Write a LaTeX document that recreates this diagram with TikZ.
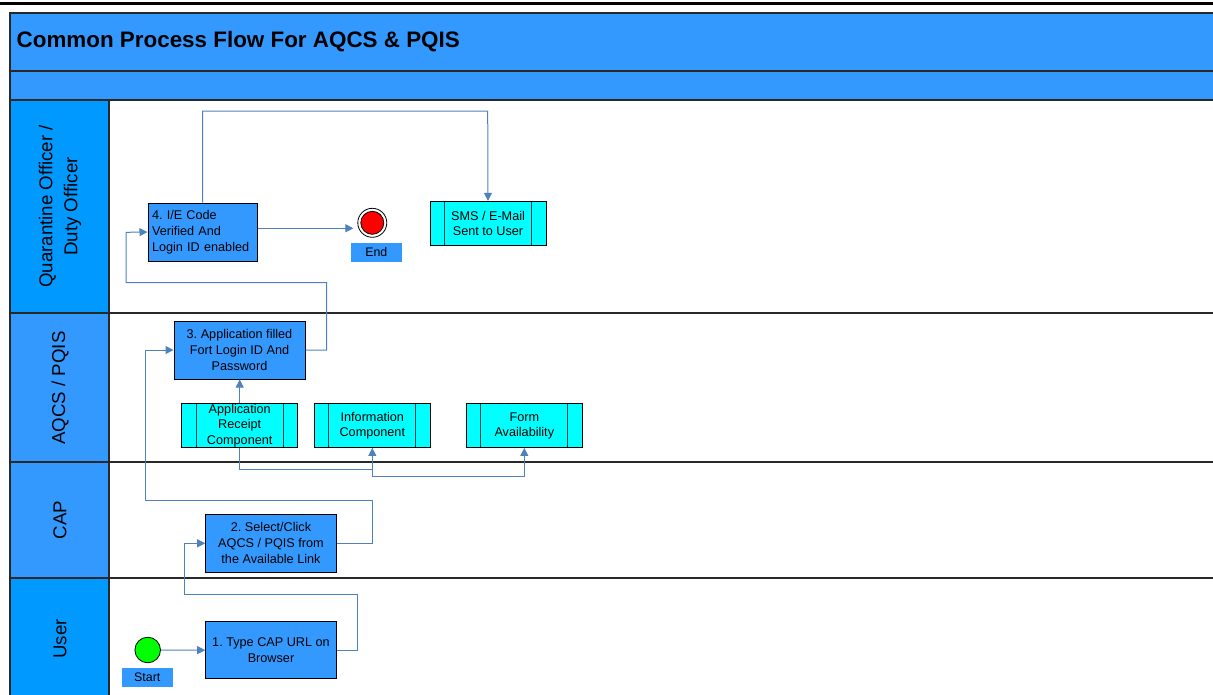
\documentclass[tikz,border=0pt]{standalone}
\usepackage{fontspec}
\setmainfont{Liberation Sans}
\usetikzlibrary{arrows.meta,calc}
\frenchspacing
\definecolor{lblue}{RGB}{51,153,255}
\definecolor{dblue}{RGB}{0,153,255}
\definecolor{aqua}{RGB}{0,255,255}
\definecolor{conncol}{RGB}{79,129,189}
\definecolor{startgreen}{RGB}{0,255,0}
\definecolor{edgegray}{RGB}{40,40,40}
\tikzset{
  stepbox/.style={draw=black, line width=0.75pt, fill=lblue, minimum width=131*0.75pt,
    minimum height=58*0.75pt, align=center, font=\fontsize{9.5}{12}\selectfont\frenchspacing, inner sep=1pt},
  comp/.style={draw=black, fill=aqua, line width=0.75pt, minimum width=116*0.75pt,
    minimum height=43.5*0.75pt, align=center, font=\fontsize{9.5}{11.6}\selectfont, inner sep=0pt,
    path picture={\draw[line width=0.75pt, draw=black!75!aqua]
      ([xshift=10.9pt]path picture bounding box.north west) -- ([xshift=10.9pt]path picture bounding box.south west)
      ([xshift=-10.9pt]path picture bounding box.north east) -- ([xshift=-10.9pt]path picture bounding box.south east);}},
  conn/.style={draw=conncol, line width=0.75pt, -{Triangle[length=6pt,width=6pt]}},
  tag/.style={fill=lblue, minimum width=50.7*0.75pt, minimum height=18.4*0.75pt, inner sep=0pt,
    font=\fontsize{9.3}{11}\selectfont},
  lanelbl/.style={rotate=90, align=center, font=\fontsize{14}{18.75}\selectfont},
  band/.style={draw=edgegray, line width=0.8pt},
}
\begin{document}
\begin{tikzpicture}[x=0.75pt,y=-0.75pt]
\useasboundingbox (0,0) rectangle (1213,694);
\clip (0,0) rectangle (1213,694);
% top rule
\draw[line width=2pt, black] (0,3.5) -- (1213,3.5);
\draw[line width=0.6pt, black!30] (9.5,12) -- (1213,12);
\draw[line width=0.6pt, black!45] (9.5,12) -- (9.5,700);
% title bands
\path[band, fill=lblue] (10,13) rectangle (1220,71);
\path[band, fill=lblue] (10,71) rectangle (1220,100);
\node[anchor=west, font=\fontsize{16.8}{20}\selectfont\bfseries] (title) at (12,42) {Common Process Flow For AQCS \& PQIS};
% lane label cells
\path[band, fill=dblue] (10,100) rectangle (109,313);
\path[band, fill=lblue] (10,313) rectangle (109,462);
\path[band, fill=lblue] (10,462) rectangle (109,578);
\path[band, fill=dblue] (10,578) rectangle (109,700);
% lane separators
\draw[line width=1.2pt, edgegray] (109,313) -- (1220,313);
\draw[line width=1.2pt, edgegray] (109,462) -- (1220,462);
\draw[line width=1.2pt, edgegray] (109,578) -- (1220,578);
% lane labels
\node[lanelbl] (lq) at (60,206.5) {Quarantine Officer /\\Duty Officer};
\node[lanelbl] (la) at (60,388) {AQCS / PQIS};
\node[lanelbl] (lc) at (60,520) {CAP};
\node[lanelbl] (lu) at (60,639) {User};
% nodes
\node[stepbox, minimum width=109*0.75pt, text width=101*0.75pt, align=left, inner xsep=3pt] (b4) at (202.5,232) {4. I/E Code\\Verified And\\Login ID enabled};
\node[circle, draw=black, line width=0.6pt, minimum size=29*0.75pt, inner sep=0pt] (endc) at (372.3,222.8) {};
\node[circle, draw=black, line width=0.6pt, fill=red, minimum size=23*0.75pt, inner sep=0pt] (endi) at (endc) {};
\node[tag] (endl) at (376.3,252.5) {End};
\node[comp, minimum width=116*0.75pt, minimum height=43.7*0.75pt] (sms) at (488,223.2) {SMS / E-Mail\\Sent to User};
\node[stepbox] (b3) at (239.5,350) {3. Application filled\\Fort Login ID And\\Password};
\node[comp] (app) at (239.7,425.7) {Application\\Receipt\\Component};
\node[comp] (info) at (372.3,425.7) {Information\\Component};
\node[comp] (form) at (524.3,425.7) {Form\\Availability};
\node[stepbox, minimum width=130.6*0.75pt] (b2) at (271,543.3) {2. Select/Click\\AQCS / PQIS from\\the Available Link};
\node[stepbox, minimum width=130.6*0.75pt, minimum height=57.3*0.75pt] (b1) at (271,650.3) {1. Type CAP URL on\\Browser};
\node[circle, draw=black, line width=0.6pt, fill=startgreen, minimum size=25.6*0.75pt, inner sep=0pt] (start) at (147.7,650) {};
\node[tag] (startl) at (147.3,677.5) {Start};
% waypoints
\coordinate (w1) at (357.7,594.3);
\coordinate (w2) at (184,543.3);
\coordinate (w3) at (372.7,500);
\coordinate (w4) at (145,350);
\coordinate (w5) at (326.7,282.7);
\coordinate (w6) at (126,232.3);
\coordinate (w7) at (487.7,111);
\coordinate (h1) at (0,469);
\coordinate (h2) at (0,476);
% connectors
\draw[conn] (start) -- (b1);
\draw[conn] (b1.east) -| (w1) -| (w2) -- (b2.west);
\draw[conn] (b2.east) -| (w3) -| (w4) -- (b3.west);
\draw[conn] (b3.east) -| (w5) -| (w6) -- (b4.west);
\draw[conn, shorten >=3pt] ([yshift=2.8pt]b4.east) -- ([yshift=2.8pt]b4.east -| endc.west);
\draw[conn] (b4.north) |- (w7) -- (sms.north);
\draw[conn] (app.north) -- (app.north |- b3.south);
\draw[conn] (app.south) |- (info.south |- h1) -- (info.south);
\draw[conn] (info.south) -- (info.south |- h2) -| (form.south);
\end{tikzpicture}
\end{document}
